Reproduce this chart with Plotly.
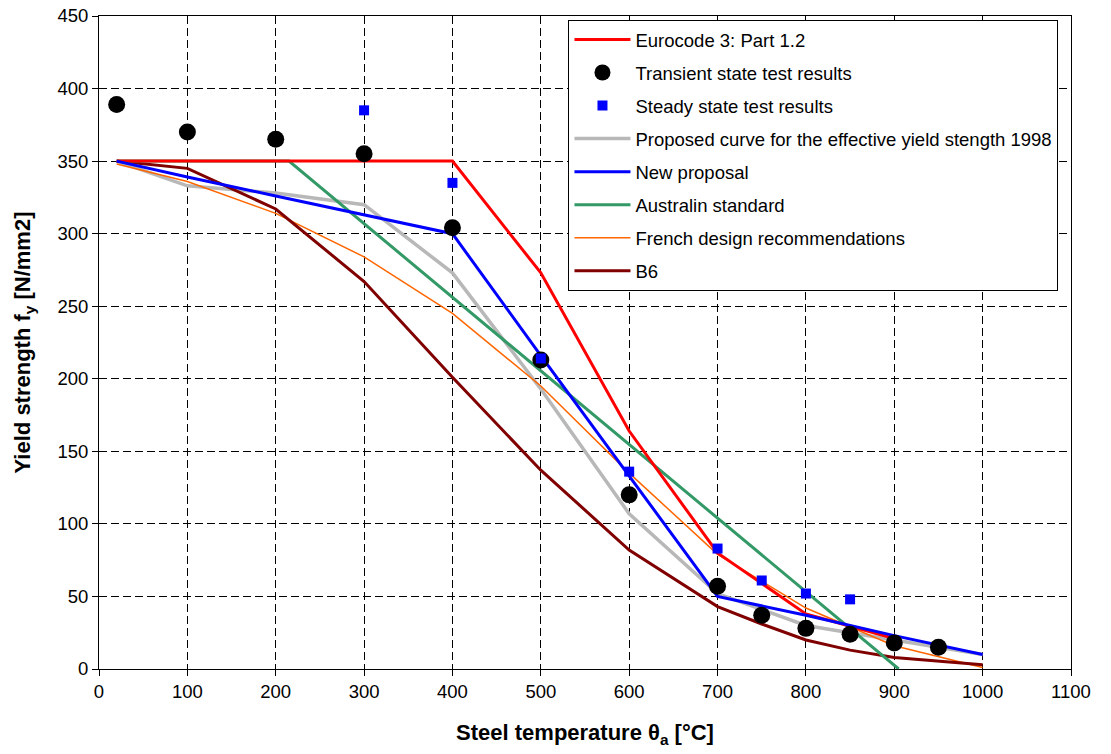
import plotly.graph_objects as go

# ---- data ----
ec_T = [20, 100, 200, 300, 400, 500, 600, 700, 800, 900]
ec_fy = [350, 350, 350, 350, 350, 273, 164, 80, 38, 21]

transient_T = [20, 100, 200, 300, 400, 500, 600, 700, 750, 800, 850, 900, 950]
transient_fy = [389, 370, 365, 355, 304, 213, 120, 57, 37, 28, 24, 18, 15]

steady_T = [300, 400, 500, 600, 700, 750, 800, 850]
steady_fy = [385, 335, 214, 136, 83, 61, 52, 48]

prop1998_T = [20, 100, 200, 300, 400, 500, 600, 700, 800, 900, 1000]
prop1998_fy = [350, 333, 328, 320, 273, 193, 107, 52, 30, 20, 10]

newprop_T = [20, 100, 200, 300, 400, 500, 600, 700, 800, 900, 1000]
newprop_fy = [350, 339, 326, 313, 300, 216, 133, 50, 37, 23, 10]

aus_T = [20, 215, 905]
aus_fy = [350, 350, 0]

french_T = [20, 100, 200, 300, 400, 500, 600, 700, 800, 900, 1000]
french_fy = [348, 336, 314, 284, 245, 195, 135, 79, 42, 16, 1]

b6_T = [20, 100, 200, 300, 400, 500, 600, 700, 750, 800, 850, 900, 1000]
b6_fy = [350, 345, 317, 267, 201, 137, 82, 43, 31, 20, 13, 8, 3]

FONT = "Arial, Liberation Sans, sans-serif"

fig = go.Figure()

def line(x, y, name, color, width, rank):
    fig.add_trace(go.Scatter(x=x, y=y, mode="lines", name=name,
                             line=dict(color=color, width=width),
                             legendrank=rank, legendgroup=name))

line(prop1998_T, prop1998_fy, "Proposed curve for the effective yield stength 1998", "#b8b8b8", 3.5, 4)
line(french_T, french_fy, "French design recommendations", "#ff6600", 1.5, 7)
line(b6_T, b6_fy, "B6", "#800000", 3, 8)
line(aus_T, aus_fy, "Australin standard", "#339966", 3, 6)
line(ec_T, ec_fy, "Eurocode 3: Part 1.2", "#ff0000", 3, 1)
line(newprop_T, newprop_fy, "New proposal", "#0000ff", 3, 5)

fig.add_trace(go.Scatter(x=transient_T, y=transient_fy, mode="markers",
                         name="Transient state test results",
                         marker=dict(symbol="circle", size=17, color="black"),
                         legendrank=2, legendgroup="t"))
fig.add_trace(go.Scatter(x=steady_T, y=steady_fy, mode="markers",
                         name="Steady state test results",
                         marker=dict(symbol="square", size=10, color="#0000ff"),
                         legendrank=3, legendgroup="s"))

axis_common = dict(
    showline=True, linecolor="black", linewidth=1, mirror=True,
    showgrid=True, gridcolor="black", gridwidth=1, griddash="8px,4px",
    ticks="outside", ticklen=6, tickcolor="black", automargin=False,
    zeroline=False, tickfont=dict(family=FONT, size=18.5, color="black"),
)

fig.update_xaxes(range=[0, 1100], dtick=100, tick0=0,
                 title=dict(text="<b>Steel temperature θ<sub>a</sub> [°C]</b>",
                            font=dict(family=FONT, size=22, color="black"), standoff=23),
                 **axis_common)
fig.update_yaxes(range=[0, 450], dtick=50, tick0=0,
                 title=dict(text="<b>Yield strength f<sub>y</sub> [N/mm2]</b>",
                            font=dict(family=FONT, size=22, color="black"), standoff=20),
                 **axis_common)

fig.update_layout(
    width=1111, height=754,
    margin=dict(l=99, r=40, t=16, b=85, autoexpand=False),
    paper_bgcolor="white", plot_bgcolor="white",
    font=dict(family=FONT, color="black"),
    legend=dict(x=0.483, y=0.994, xanchor="left", yanchor="top",
                bgcolor="white", bordercolor="black", borderwidth=1,
                font=dict(family=FONT, size=18.5, color="black"),
                itemwidth=56, tracegroupgap=6, traceorder="grouped"),
)

fig.write_html("out.html")
